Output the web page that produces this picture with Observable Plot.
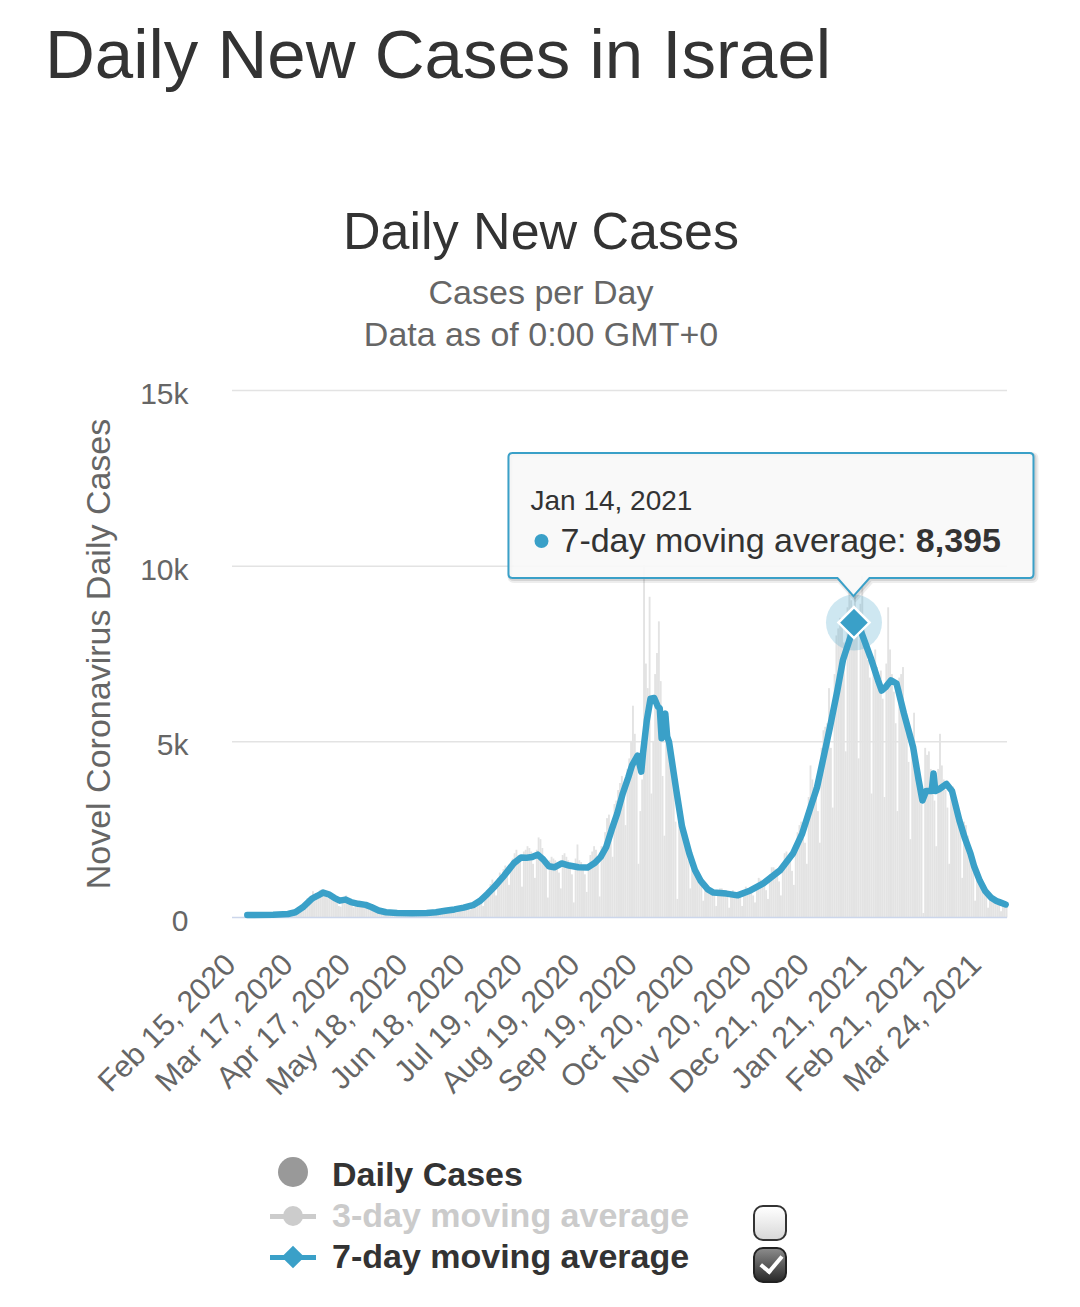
<!DOCTYPE html>
<html><head><meta charset="utf-8">
<script src="https://cdn.jsdelivr.net/npm/d3@7"></script>
<script src="https://cdn.jsdelivr.net/npm/@observablehq/plot@0.6"></script>
<style>
body{margin:0;background:#fff;font-family:"Liberation Sans",Arial,Helvetica,sans-serif;}
#page{position:relative;width:1080px;height:1307px;overflow:hidden;background:#fff;}
.t{position:absolute;white-space:nowrap;line-height:1;}
.c{left:0;width:1082px;text-align:center;}
.lg{font-size:34px;font-weight:bold;left:332px;}
.ic{position:absolute;}
</style></head><body><div id="page">
<div class="t" style="left:45px;top:20px;font-size:69px;color:#333;">Daily New Cases in Israel</div>
<div class="t c" style="top:205px;font-size:52px;color:#333;">Daily New Cases</div>
<div class="t c" style="top:275px;font-size:34px;color:#666;">Cases per Day</div>
<div class="t c" style="top:317px;font-size:34px;color:#666;">Data as of 0:00 GMT+0</div>
<div id="chart" style="position:absolute;left:0;top:370px;"></div>
<div class="ic" style="left:278px;top:1157px;width:30px;height:30px;border-radius:50%;background:#999;"></div>
<div class="t lg" style="top:1157px;color:#333;">Daily Cases</div>
<div class="ic" style="left:270px;top:1214px;width:46px;height:5px;background:#ccc;"></div>
<div class="ic" style="left:283px;top:1206px;width:20px;height:20px;border-radius:50%;background:#ccc;"></div>
<div class="t lg" style="top:1198px;color:#cbcbcb;">3-day moving average</div>
<div class="ic" style="left:270px;top:1255px;width:46px;height:5px;background:#3aa0c8;"></div>
<div class="ic" style="left:285px;top:1249px;width:16px;height:16px;background:#3aa0c8;transform:rotate(45deg);"></div>
<div class="t lg" style="top:1239px;color:#333;">7-day moving average</div>
<div class="ic" style="left:753px;top:1205px;width:30px;height:32px;border:2.5px solid #333;border-radius:10px;background:linear-gradient(#fff,#d8d8d8);"></div>
<div class="ic" style="left:753px;top:1247px;width:30px;height:32px;border:2.5px solid #222;border-radius:10px;background:linear-gradient(#8a8a8a,#2a2a2a);"></div>
<div class="ic" style="left:765px;top:1251px;width:9px;height:18px;border-right:4px solid #fff;border-bottom:4px solid #fff;transform:rotate(40deg);"></div>
</div>
<script>
// ---- data ----
const dailyStart = "2020-02-15";
const dailyCases = [
0,0,0,0,0,1,0,
0,1,0,0,0,0,0,
0,3,2,1,3,2,4,
4,10,11,14,25,20,40,
36,50,88,120,107,260,240,
280,260,400,520,420,530,720,
450,650,620,760,780,700,560,
520,640,650,590,580,460,300,
280,460,560,600,520,480,420,
260,410,380,420,350,400,340,
240,330,340,300,280,270,220,
120,180,160,140,130,110,90,
40,70,60,50,50,40,30,
20,40,30,40,35,30,25,
15,30,35,40,50,60,70,
80,90,110,120,130,125,100,
90,170,150,190,170,200,140,
120,220,240,250,280,260,200,
180,300,350,400,460,500,420,
300,560,700,750,920,1050,870,
600,1100,1250,1200,1350,1450,1200,
900,1500,1650,1800,1900,1750,1650,
850,1850,1900,2000,1950,1850,1500,
1100,1900,2250,2200,1950,1600,1400,
540,1600,1700,1650,1600,1500,1250,
800,1750,1800,1700,1600,1450,1200,
400,1650,2050,1600,1550,1400,1200,
700,1500,1750,1850,2000,1900,1700,
570,2000,2000,2400,2800,2900,2600,
1700,3200,3300,3600,3800,4000,3500,
2600,4200,4500,5000,6000,5200,4500,
1500,3000,3900,10000,7200,6500,9100,
3500,5000,6900,7500,8400,6700,4000,
2300,5500,5700,4800,4300,3600,2700,
500,3000,2900,2600,2300,2000,1600,
800,1600,1500,1400,1250,1100,900,
450,900,850,780,750,700,650,
300,700,800,800,750,720,600,
250,650,750,700,700,650,550,
300,700,850,800,780,750,600,
400,900,1100,1050,1000,950,750,
500,1200,1400,1400,1350,1300,1000,
600,1500,1800,1850,1700,1600,1300,
900,2000,2400,2600,2700,2600,2100,
1500,3400,4300,3900,3700,3600,3000,
2100,4800,5300,5400,5500,6500,4800,
3100,6900,8000,8200,8500,8400,7800,
4700,8800,9300,9000,8500,9200,8500,
4500,8900,9700,8200,7800,7300,6800,
3500,7200,7600,7100,6600,7000,6200,
3400,7200,8800,7600,6900,6400,5500,
3000,6800,6900,7100,5800,5200,4400,
2200,5200,5800,4600,4300,3900,3200,
100,4800,4600,4700,4200,3900,3300,
2000,4200,5200,4300,3900,3600,3100,
1500,3600,3700,3400,3100,2900,2500,
1100,2700,2600,2300,2000,1800,1400,
450,1300,1200,1000,900,800,650,
250,650,600,550,500,450,350,
150,450,380,350
];
const maDates = [
"2020-02-21","2020-03-06","2020-03-14","2020-03-18","2020-03-22","2020-03-27","2020-03-30","2020-04-02","2020-04-05","2020-04-08",
"2020-04-11","2020-04-14","2020-04-17","2020-04-21","2020-04-25","2020-04-28","2020-05-02","2020-05-06","2020-05-12","2020-05-20",
"2020-05-28","2020-06-02","2020-06-07","2020-06-12","2020-06-17","2020-06-22","2020-06-26","2020-06-30","2020-07-04","2020-07-09",
"2020-07-14","2020-07-18","2020-07-21","2020-07-24","2020-07-27","2020-07-30","2020-08-02","2020-08-05","2020-08-09","2020-08-13",
"2020-08-18","2020-08-23","2020-08-27","2020-08-30","2020-09-02","2020-09-05","2020-09-08","2020-09-11","2020-09-14","2020-09-16",
"2020-09-19","2020-09-21","2020-09-22","2020-09-24","2020-09-26","2020-09-28","2020-09-30","2020-10-01","2020-10-02","2020-10-03",
"2020-10-04","2020-10-05","2020-10-06","2020-10-08","2020-10-10","2020-10-13","2020-10-17","2020-10-20","2020-10-23","2020-10-27",
"2020-10-30","2020-11-06","2020-11-12","2020-11-19","2020-11-26","2020-12-05","2020-12-12","2020-12-17","2020-12-21","2020-12-25",
"2020-12-29","2021-01-01","2021-01-05","2021-01-08","2021-01-12","2021-01-14","2021-01-17","2021-01-19","2021-01-23","2021-01-27",
"2021-01-29","2021-01-31","2021-02-03","2021-02-06","2021-02-10","2021-02-15","2021-02-18","2021-02-20","2021-02-22","2021-02-25",
"2021-02-26","2021-02-27","2021-03-01","2021-03-05","2021-03-08","2021-03-12","2021-03-15","2021-03-18","2021-03-20","2021-03-23",
"2021-03-26","2021-03-29","2021-04-01","2021-04-03","2021-04-06"
];
const maValues = [
70,75,100,150,290,540,620,710,660,560,
480,510,440,390,360,300,200,150,130,120,
125,150,190,230,280,350,480,680,900,1200,
1540,1710,1700,1720,1790,1650,1460,1430,1540,1480,
1430,1420,1560,1720,2000,2500,2960,3530,3990,4330,
4610,4150,4700,5610,6230,6250,6000,5950,5100,5700,
5800,5150,5000,4300,3600,2600,1820,1350,1050,800,
710,680,630,770,970,1340,1820,2390,3050,3700,
4670,5410,6460,7320,7970,8395,8250,7970,7400,6750,
6460,6550,6750,6660,5810,4840,3900,3330,3600,3600,
4100,3600,3650,3800,3600,2760,2250,1820,1450,1050,
750,570,470,430,370
];
const xTickDates = ["2020-02-15","2020-03-17","2020-04-17","2020-05-18","2020-06-18","2020-07-19","2020-08-19",
  "2020-09-19","2020-10-20","2020-11-20","2020-12-21","2021-01-21","2021-02-21","2021-03-24"];
const yTicks = [0, 5000, 10000, 15000];
const xDomain = ["2020-02-13", "2021-04-07"];
const peakDate = "2021-01-14";
const peakValue = 8395;
const seriesName = "7-day moving average";
const yLabel = "Novel Coronavirus Daily Cases";

// ---- build ----
const parse = d3.utcParse("%Y-%m-%d");
const fmt = d3.utcFormat("%b %d, %Y");
const start = parse(dailyStart);
const daily = dailyCases.map((v, i) => ({date: d3.utcDay.offset(start, i), cases: v}));
const ma = maDates.map((d, i) => ({date: parse(d), value: maValues[i]}));
const peak = [{date: parse(peakDate), value: peakValue}];
const blue = "#3aa0c8";
const NS = "http://www.w3.org/2000/svg";

function el(tag, attrs) {
  const e = document.createElementNS(NS, tag);
  for (const k in attrs) e.setAttribute(k, attrs[k]);
  return e;
}

function tooltipMark(index, scales) {
  const px = scales.x(peak[0].date), py = scales.y(peak[0].value);
  const L = px - 345, R = px + 180, T = py - 169, B = py - 44, r = 4;
  const d = `M${L + r},${T}H${R - r}Q${R},${T} ${R},${T + r}V${B - r}Q${R},${B} ${R - r},${B}` +
    `H${px + 16}L${px},${B + 18}L${px - 16},${B}H${L + r}Q${L},${B} ${L},${B - r}V${T + r}Q${L},${T} ${L + r},${T}Z`;
  const g = el("g", {"text-anchor": "start"});
  g.appendChild(el("path", {d, fill: "none", stroke: "#000", "stroke-opacity": 0.07, "stroke-width": 6, transform: "translate(2,2)"}));
  g.appendChild(el("path", {d, fill: "none", stroke: "#000", "stroke-opacity": 0.1, "stroke-width": 3, transform: "translate(1.5,1.5)"}));
  g.appendChild(el("path", {d, fill: "rgba(248,248,248,0.9)", stroke: blue, "stroke-width": 2}));
  const t1 = el("text", {x: L + 22, y: py - 112, "font-size": 28, fill: "#333", "text-anchor": "start"});
  t1.textContent = fmt(peak[0].date);
  g.appendChild(t1);
  g.appendChild(el("circle", {cx: L + 33, cy: py - 81, r: 7, fill: blue}));
  const t2 = el("text", {x: L + 52, y: py - 70, "font-size": 34, fill: "#333", "text-anchor": "start"});
  t2.appendChild(document.createTextNode(seriesName + ": "));
  const b = el("tspan", {"font-weight": "bold"});
  b.textContent = d3.format(",")(peak[0].value);
  t2.appendChild(b);
  g.appendChild(t2);
  return g;
}

const chart = Plot.plot({
  width: 1080, height: 737,
  marginTop: 20, marginBottom: 190, marginLeft: 232, marginRight: 73,
  style: {fontFamily: "'Liberation Sans', Arial, Helvetica, sans-serif", background: "transparent", overflow: "visible"},
  x: {type: "utc", domain: xDomain.map(parse), axis: null},
  y: {domain: [0, 15000], axis: null},
  marks: [
    Plot.gridY(yTicks.filter(d => d > 0), {stroke: "#e3e3e3", strokeOpacity: 1, strokeWidth: 1.5}),
    Plot.rectY(daily, {x: "date", y: "cases", interval: "day", fill: "#e3e3e3", stroke: "#e3e3e3", strokeWidth: 1}),
    Plot.ruleY([0], {stroke: "#ccd6eb", strokeWidth: 1.5}),
    Plot.axisY({ticks: yTicks, tickSize: 0, tickPadding: 44, fontSize: 30, fill: "#666", dy: 4,
      tickFormat: d => d === 0 ? "0" : `${d / 1000}k`, label: null}),
    Plot.text([yLabel], {frameAnchor: "left", textAnchor: "middle", rotate: -90, dx: -133, fontSize: 34, fill: "#666"}),
    Plot.text(xTickDates.map(parse), {x: d => d, frameAnchor: "bottom", text: d => fmt(d), rotate: -45,
      textAnchor: "end", lineAnchor: "middle", dx: -5.6, dy: 42, fontSize: 30.5, fill: "#666"}),
    Plot.lineY(ma, {x: "date", y: "value", stroke: blue, strokeWidth: 6.5, strokeLinejoin: "round", strokeLinecap: "round"}),
    Plot.dot(peak, {x: "date", y: "value", r: 28, fill: blue, fillOpacity: 0.25}),
    Plot.dot(peak, {x: "date", y: "value", r: 14, symbol: "diamond2", fill: blue, stroke: "white", strokeWidth: 2.5}),
    tooltipMark
  ]
});
document.getElementById("chart").appendChild(chart);
</script>
</body></html>
